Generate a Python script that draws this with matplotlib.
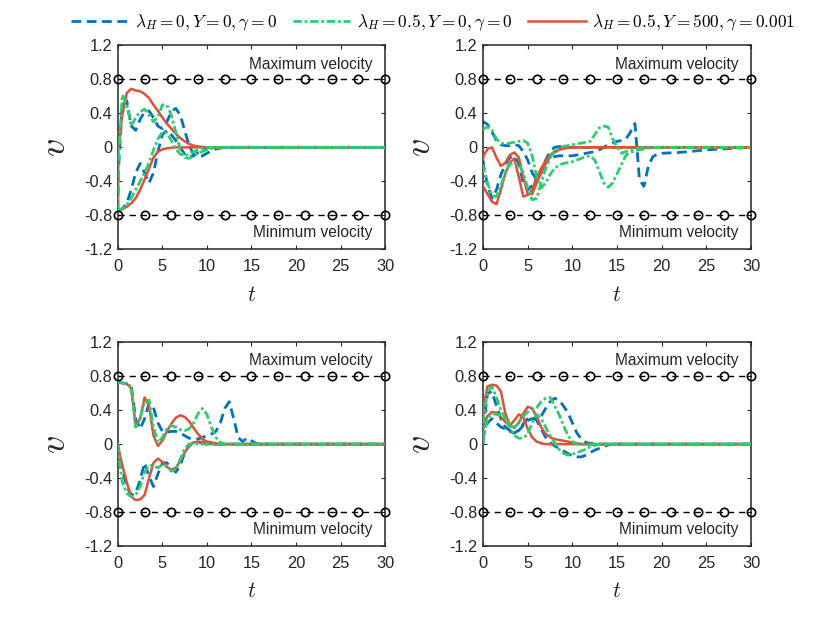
import matplotlib
matplotlib.use('Agg')
import matplotlib.pyplot as plt
from matplotlib.lines import Line2D

plt.rcParams['font.family'] = ['Liberation Sans', 'DejaVu Sans']
plt.rcParams['mathtext.fontset'] = 'cm'

# ---------------- data ----------------
t = [0, 0.05, 0.5, 1.0, 1.5, 2.0, 2.5, 3.0, 3.5, 4.0, 4.5,
     5.0, 5.5, 6.0, 6.5, 7.0, 7.5, 8.0, 8.5, 9.0, 9.5,
     10.0, 10.5, 11.0, 11.5, 12.0, 12.5, 13.0, 13.5, 14.0, 14.5,
     15.0, 15.5, 16.0, 16.5, 17.0, 17.5, 18.0, 18.5, 19.0, 19.5,
     20.0, 22.0, 25.0, 30.0]

ref_t = [0, 3, 6, 9, 12, 15, 18, 21, 24, 27, 30]
v_max = 0.8
v_min = -0.8

x_ticks = [0, 5, 10, 15, 20, 25, 30]
y_ticks = [-1.2, -0.8, -0.4, 0, 0.4, 0.8, 1.2]
y_tick_labels = ['-1.2', '-0.8', '-0.4', '0', '0.4', '0.8', '1.2']

legend_labels = [r'$\lambda_H=0, Y=0, \gamma=0$',
                 r'$\lambda_H=0.5, Y=0, \gamma=0$',
                 r'$\lambda_H=0.5, Y=500, \gamma=0.001$']

# top-left panel
tl_blue_a = [-0.75, -0.30, 0.50, 0.55, 0.25, 0.20, 0.33, 0.42, 0.43, 0.35, 0.25,
             0.22, 0.30, 0.42, 0.46, 0.38, 0.20, 0.02, -0.08, -0.11, -0.10,
             -0.07, -0.04, -0.02, -0.01, 0, 0, 0, 0, 0, 0,
             0, 0, 0, 0, 0, 0, 0, 0, 0, 0,
             0, 0, 0, 0]
tl_blue_b = [-0.75, -0.75, -0.72, -0.66, -0.50, -0.30, -0.19, -0.30, -0.42, -0.30, -0.05,
             0.15, 0.20, 0.15, 0.08, 0.00, -0.08, -0.11, -0.10, -0.06, -0.03,
             -0.01, 0, 0, 0, 0, 0, 0, 0, 0, 0,
             0, 0, 0, 0, 0, 0, 0, 0, 0, 0,
             0, 0, 0, 0]
tl_green_a = [-0.75, -0.20, 0.62, 0.50, 0.25, 0.35, 0.42, 0.45, 0.38, 0.30, 0.36,
              0.50, 0.50, 0.38, 0.18, -0.03, -0.12, -0.13, -0.10, -0.07, -0.05,
              -0.03, -0.015, -0.005, 0, 0, 0, 0, 0, 0, 0,
              0, 0, 0, 0, 0, 0, 0, 0, 0, 0,
              0, 0, 0, 0]
tl_green_b = [-0.75, -0.75, -0.72, -0.68, -0.60, -0.50, -0.40, -0.30, -0.18, -0.03, 0.10,
              0.18, 0.17, 0.08, -0.02, -0.08, -0.10, -0.08, -0.05, -0.03, -0.01,
              0, 0, 0, 0, 0, 0, 0, 0, 0, 0,
              0, 0, 0, 0, 0, 0, 0, 0, 0, 0,
              0, 0, 0, 0]
tl_red_a = [-0.75, 0.00, 0.38, 0.64, 0.69, 0.67, 0.66, 0.63, 0.58, 0.50, 0.43,
            0.35, 0.28, 0.22, 0.16, 0.11, 0.07, 0.04, 0.02, 0.01, 0.005,
            0, 0, 0, 0, 0, 0, 0, 0, 0, 0,
            0, 0, 0, 0, 0, 0, 0, 0, 0, 0,
            0, 0, 0, 0]
tl_red_b = [-0.74, -0.74, -0.73, -0.70, -0.66, -0.60, -0.50, -0.38, -0.25, -0.12, -0.05,
            -0.025, -0.012, -0.005, 0, 0, 0, 0, 0, 0, 0,
            0, 0, 0, 0, 0, 0, 0, 0, 0, 0,
            0, 0, 0, 0, 0, 0, 0, 0, 0, 0,
            0, 0, 0, 0]

# top-right panel
tr_blue_a = [0.28, 0.30, 0.27, 0.18, 0.08, 0.03, 0.02, 0.02, 0.03, 0.02, -0.05,
             -0.15, -0.30, -0.38, -0.30, -0.15, -0.05, 0.00, 0.01, 0.01, 0.00,
             0, 0, 0, 0, 0, 0, 0, 0, 0, 0,
             0, 0, 0, 0, 0, 0, 0, 0, 0, 0,
             0, 0, 0, 0]
tr_blue_b = [-0.15, -0.20, -0.45, -0.60, -0.50, -0.32, -0.20, -0.12, -0.10, -0.20, -0.42,
             -0.50, -0.45, -0.36, -0.27, -0.19, -0.14, -0.11, -0.10, -0.10, -0.10,
             -0.10, -0.09, -0.08, -0.07, -0.06, -0.05, -0.03, 0.00, 0.03, 0.05,
             0.07, 0.08, 0.10, 0.18, 0.28, -0.38, -0.46, -0.22, -0.11, -0.08,
             -0.07, -0.06, -0.03, 0.00]
tr_green_a = [0.20, 0.22, 0.24, 0.20, 0.10, 0.05, 0.04, 0.05, 0.06, 0.07, 0.08,
              0.05, -0.10, -0.35, -0.48, -0.42, -0.32, -0.25, -0.21, -0.19, -0.18,
              -0.17, -0.15, -0.13, -0.11, -0.10, -0.15, -0.28, -0.42, -0.47, -0.42,
              -0.31, -0.20, -0.09, -0.06, -0.04, -0.03, -0.02, -0.01, 0, 0,
              0, 0, 0, 0]
tr_green_b = [-0.20, -0.25, -0.42, -0.57, -0.58, -0.45, -0.30, -0.20, -0.18, -0.20, -0.30,
              -0.48, -0.62, -0.60, -0.42, -0.25, -0.12, -0.05, -0.01, 0.01, 0.02,
              0.03, 0.04, 0.05, 0.06, 0.07, 0.15, 0.23, 0.25, 0.24, 0.10,
              0.00, -0.07, -0.05, -0.03, -0.02, -0.01, 0, 0, 0, 0,
              0, 0, 0, 0]
tr_red_a = [-0.15, -0.10, -0.02, 0.00, -0.12, -0.22, -0.18, -0.09, -0.06, -0.12, -0.35,
            -0.55, -0.55, -0.42, -0.30, -0.19, -0.11, -0.06, -0.03, -0.015, -0.005,
            0, 0, 0, 0, 0, 0, 0, 0, 0, 0,
            0, 0, 0, 0, 0, 0, 0, 0, 0, 0,
            0, 0, 0, 0]
tr_red_b = [-0.45, -0.47, -0.55, -0.64, -0.67, -0.50, -0.30, -0.18, -0.13, -0.35, -0.58,
            -0.56, -0.50, -0.35, -0.25, -0.16, -0.09, -0.05, -0.02, -0.01, 0,
            0, 0, 0, 0, 0, 0, 0, 0, 0, 0,
            0, 0, 0, 0, 0, 0, 0, 0, 0, 0,
            0, 0, 0, 0]

# bottom-left panel
bl_blue_a = [0.73, 0.73, 0.72, 0.71, 0.69, 0.30, 0.18, 0.30, 0.48, 0.43, 0.25,
             0.15, 0.14, 0.15, 0.15, 0.13, 0.10, 0.07, 0.06, 0.06, 0.08,
             0.10, 0.12, 0.15, 0.25, 0.42, 0.50, 0.30, 0.08, 0.03, 0.07,
             0.04, 0.01, 0, 0, 0, 0, 0, 0, 0, 0,
             0, 0, 0, 0]
bl_blue_b = [0.00, -0.05, -0.30, -0.50, -0.60, -0.58, -0.42, -0.22, -0.38, -0.50, -0.35,
             -0.22, -0.22, -0.28, -0.33, -0.25, -0.10, -0.02, 0.02, 0.02, 0.01,
             0, 0, 0, 0, 0, 0, 0, 0, 0, 0,
             0, 0, 0, 0, 0, 0, 0, 0, 0, 0,
             0, 0, 0, 0]
bl_green_a = [0.73, 0.73, 0.72, 0.71, 0.68, 0.20, 0.30, 0.50, 0.52, 0.20, 0.02,
              0.08, 0.18, 0.22, 0.20, 0.17, 0.16, 0.18, 0.25, 0.36, 0.42,
              0.35, 0.20, 0.08, 0.02, 0, 0, 0, 0, 0, 0,
              0, 0, 0, 0, 0, 0, 0, 0, 0, 0,
              0, 0, 0, 0]
bl_green_b = [0.00, -0.10, -0.45, -0.58, -0.62, -0.60, -0.50, -0.33, -0.25, -0.25, -0.28,
              -0.24, -0.25, -0.32, -0.30, -0.18, -0.05, 0.00, 0.01, 0, 0,
              0, 0, 0, 0, 0, 0, 0, 0, 0, 0,
              0, 0, 0, 0, 0, 0, 0, 0, 0, 0,
              0, 0, 0, 0]
bl_red_a = [0.73, 0.73, 0.72, 0.71, 0.66, 0.22, 0.30, 0.55, 0.45, 0.10, -0.02,
            0.04, 0.15, 0.24, 0.31, 0.34, 0.32, 0.27, 0.19, 0.12, 0.06,
            0.03, 0.02, 0.01, 0, 0, 0, 0, 0, 0, 0,
            0, 0, 0, 0, 0, 0, 0, 0, 0, 0,
            0, 0, 0, 0]
bl_red_b = [0.00, -0.05, -0.25, -0.45, -0.62, -0.66, -0.65, -0.60, -0.40, -0.22, -0.17,
            -0.21, -0.27, -0.30, -0.28, -0.20, -0.10, -0.02, 0.02, 0.03, 0.025,
            0.01, 0, 0, 0, 0, 0, 0, 0, 0, 0,
            0, 0, 0, 0, 0, 0, 0, 0, 0, 0,
            0, 0, 0, 0]

# bottom-right panel
br_blue_a = [0.00, 0.20, 0.60, 0.62, 0.45, 0.30, 0.20, 0.16, 0.14, 0.16, 0.22,
             0.28, 0.30, 0.30, 0.33, 0.42, 0.50, 0.54, 0.52, 0.45, 0.37,
             0.25, 0.13, 0.06, 0.02, 0.01, 0, 0, 0, 0, 0,
             0, 0, 0, 0, 0, 0, 0, 0, 0, 0,
             0, 0, 0, 0]
br_blue_b = [0.05, 0.10, 0.25, 0.30, 0.25, 0.20, 0.18, 0.15, 0.13, 0.17, 0.24,
             0.30, 0.32, 0.28, 0.18, 0.08, 0.02, -0.02, -0.05, -0.08, -0.11,
             -0.14, -0.15, -0.15, -0.13, -0.10, -0.07, -0.05, -0.03, -0.01, 0,
             0, 0, 0, 0, 0, 0, 0, 0, 0, 0,
             0, 0, 0, 0]
br_green_a = [0.05, 0.30, 0.62, 0.68, 0.55, 0.40, 0.30, 0.22, 0.20, 0.25, 0.33,
              0.38, 0.40, 0.43, 0.50, 0.54, 0.55, 0.45, 0.35, 0.22, 0.10,
              0.03, 0, 0, 0, 0, 0, 0, 0, 0, 0,
              0, 0, 0, 0, 0, 0, 0, 0, 0, 0,
              0, 0, 0, 0]
br_green_b = [0.00, 0.10, 0.30, 0.36, 0.35, 0.34, 0.30, 0.20, 0.10, 0.07, 0.07,
              0.12, 0.25, 0.35, 0.30, 0.20, 0.10, 0.02, -0.06, -0.11, -0.13,
              -0.12, -0.10, -0.08, -0.06, -0.03, -0.015, 0, 0, 0, 0,
              0, 0, 0, 0, 0, 0, 0, 0, 0, 0,
              0, 0, 0, 0]
br_red_a = [0.35, 0.45, 0.68, 0.70, 0.69, 0.62, 0.36, 0.22, 0.19, 0.25, 0.36,
            0.44, 0.42, 0.32, 0.20, 0.12, 0.08, 0.06, 0.05, 0.04, 0.03,
            0.02, 0.01, 0, 0, 0, 0, 0, 0, 0, 0,
            0, 0, 0, 0, 0, 0, 0, 0, 0, 0,
            0, 0, 0, 0]
br_red_b = [0.22, 0.24, 0.33, 0.38, 0.37, 0.32, 0.26, 0.22, 0.28, 0.35, 0.32,
            0.18, 0.08, 0.03, 0.01, 0, 0, 0, 0, 0, 0,
            0, 0, 0, 0, 0, 0, 0, 0, 0, 0,
            0, 0, 0, 0, 0, 0, 0, 0, 0, 0,
            0, 0, 0, 0]

panels = [
    ([tl_blue_a, tl_blue_b], [tl_green_a, tl_green_b], [tl_red_a, tl_red_b]),
    ([tr_blue_a, tr_blue_b], [tr_green_a, tr_green_b], [tr_red_a, tr_red_b]),
    ([bl_blue_a, bl_blue_b], [bl_green_a, bl_green_b], [bl_red_a, bl_red_b]),
    ([br_blue_a, br_blue_b], [br_green_a, br_green_b], [br_red_a, br_red_b]),
]

# ---------------- styling ----------------
BLUE = '#0072BD'
GREEN = '#2ECC71'
RED = '#D9533A'
AXC = '#262626'

blue_kw = dict(color=BLUE, lw=2.0, dashes=(3.5, 2.0), zorder=2)
green_kw = dict(color=GREEN, lw=2.0, dashes=(3.0, 1.0, 1.0, 1.0), zorder=4)
red_kw = dict(color=RED, lw=1.8, ls='-', zorder=3)

fig = plt.figure(figsize=(8.3, 6.23), dpi=100)
positions = [[0.142, 0.600, 0.322, 0.327],
             [0.582, 0.600, 0.323, 0.327],
             [0.142, 0.1236, 0.322, 0.327],
             [0.582, 0.1236, 0.323, 0.327]]

for pos, (blues, greens, reds) in zip(positions, panels):
    ax = fig.add_axes(pos)
    for v in blues:
        ax.plot(t, v, **blue_kw)
    for v in reds:
        ax.plot(t, v, **red_kw)
    for v in greens:
        ax.plot(t, v, **green_kw)
    for lim in (v_max, v_min):
        ax.plot(ref_t, [lim] * len(ref_t), color='black', lw=1.0,
                dashes=(4.5, 3.5), marker='o', ms=6, mfc='none',
                mec='black', mew=1.2, zorder=5, clip_on=False)
    ax.set_xlim(0, 30)
    ax.set_ylim(-1.2, 1.2)
    ax.set_xticks(x_ticks)
    ax.set_yticks(y_ticks)
    ax.set_yticklabels(y_tick_labels)
    ax.tick_params(direction='in', top=True, right=True, length=3,
                   width=0.8, colors=AXC, labelsize=11.8)
    ax.tick_params(axis='x', pad=7)
    ax.tick_params(axis='y', pad=4)
    for s in ax.spines.values():
        s.set_color(AXC)
        s.set_linewidth(1.1)
    ax.text(28.6, 0.98, 'Maximum velocity', ha='right', va='center',
            fontsize=11.2, color=AXC)
    ax.text(28.6, -1.0, 'Minimum velocity', ha='right', va='center',
            fontsize=11.2, color=AXC)
    ax.text(0.5, -0.225, '$t$', transform=ax.transAxes, ha='center',
            va='center', fontsize=16, color=AXC)
    ax.text(-0.235, 0.5, '$v$', transform=ax.transAxes, ha='center',
            va='center', fontsize=26, rotation=90, color=AXC)

handles = [Line2D([], [], **blue_kw), Line2D([], [], **green_kw),
           Line2D([], [], **red_kw)]
fig.legend(handles, legend_labels, loc='center', bbox_to_anchor=(0.522, 0.963),
           ncol=3, frameon=False, handlelength=3.3, columnspacing=0.9,
           handletextpad=0.4, fontsize=12.5)

fig.savefig('out.png', dpi=100)
